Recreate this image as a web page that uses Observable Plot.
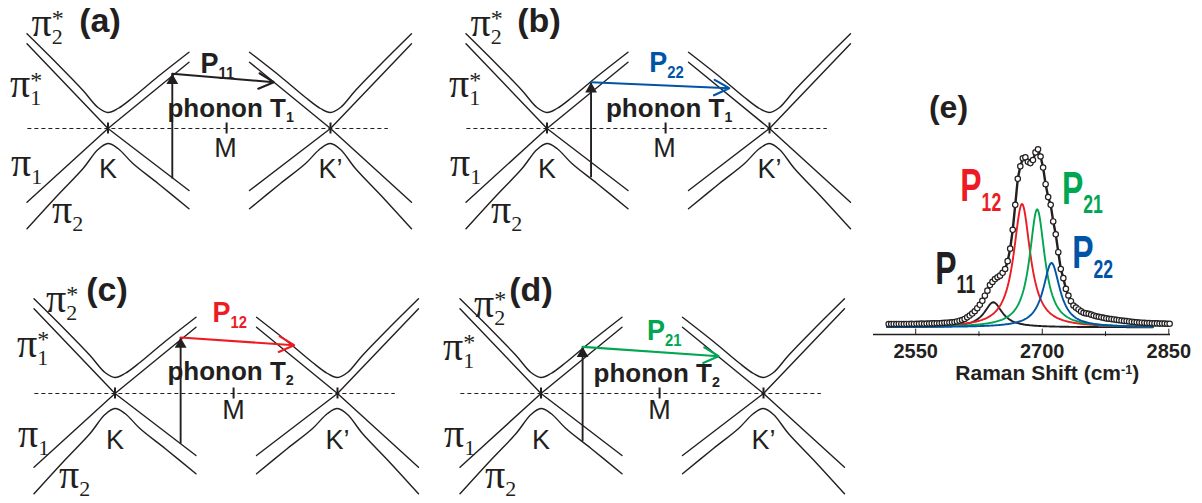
<!DOCTYPE html>
<html>
<head>
<meta charset="utf-8">
<script src="https://cdn.jsdelivr.net/npm/d3@7"></script>
<script src="https://cdn.jsdelivr.net/npm/@observablehq/plot@0.6"></script>
<style>
  html, body { margin: 0; padding: 0; background: #fff; }
  #fig { position: relative; width: 1202px; height: 503px; overflow: hidden; background: #fff; }
  .pane { position: absolute; }
</style>
</head>
<body>
<div id="fig"></div>
<script>
// ================= DATA =================
// high-symmetry points along the K–M–K' line (k in units of |KK'|)
const kPointLabels = ["K", "M", "K’"];
const kPointPos = [0, 0.533, 1];
const fermiSpan = [-0.36, 1.26];

// schematic bilayer bands around the K valley (dk from K, energy in arb. units)
const pi2StarK = [-0.364, -0.225, -0.112, -0.045, 0, 0.045, 0.112, 0.225, 0.364];
const pi2StarE = [0.947, 0.64, 0.38, 0.21, 0.16, 0.20, 0.31, 0.52, 0.763];
const pi1StarK = [-0.364, 0, 0.364];
const pi1StarE = [0.847, 0, 0.663];
const pi1K = [-0.364, 0, 0.364];
const pi1E = [-0.737, 0, -0.62];
const pi2K = [-0.364, -0.225, -0.112, -0.045, 0, 0.045, 0.112, 0.225, 0.364];
const pi2E = [-1.003, -0.665, -0.40, -0.21, -0.15, -0.20, -0.35, -0.55, -0.803];

// double-resonance processes of panels (a)–(d)
const panelTags = ["(a)", "(b)", "(c)", "(d)"];
const processDigits = ["11", "22", "12", "21"];
const phononBranch = ["1", "1", "2", "2"];
const exciteK = [0.289, 0.198, 0.295, 0.187];
const exciteFromE = [-0.50, -0.487, -0.50, -0.474];
const exciteToE = [0.547, 0.463, 0.56, 0.466];
const scatterToK = [0.745, 0.819, 0.805, 0.798];
const scatterToE = [0.463, 0.403, 0.483, 0.373];

// Raman 2D band, panel (e)
const ramanShift = [
  2518,2521,2524,2527,2530,2533,2536,2539,2542,2545,2548,2551,2554,2557,
  2560,2563,2566,2569,2572,2575,2578,2581,2584,2587,2590,2593,2596,2599,
  2602,2605,2608,2611,2614,2617,2620,2623,2626,2629,2632,2635,2638,2641,
  2644,2647,2650,2653,2656,2659,2662,2665,2668,2671,2674,2677,2680,2683,
  2686,2689,2692,2695,2698,2701,2704,2707,2710,2713,2716,2719,2722,2725,
  2728,2731,2734,2737,2740,2743,2746,2749,2752,2755,2758,2761,2764,2767,
  2770,2773,2776,2779,2782,2785,2788,2791,2794,2797,2800,2803,2806,2809,
  2812,2815,2818,2821,2824,2827,2830,2833,2836,2839,2842,2845,2848,2851];
const ramanIntensity = [
  .018,.018,.019,.018,.019,.019,.018,.019,.019,.020,.019,.020,.020,.021,
  .020,.021,.021,.022,.022,.023,.023,.024,.025,.026,.027,.028,.030,.033,
  .037,.041,.047,.056,.066,.077,.090,.107,.126,.148,.177,.205,.236,.254,
  .270,.280,.289,.305,.326,.370,.440,.545,.685,.830,.900,.945,.950,.925,
  .918,.935,.978,.995,.955,.893,.800,.728,.685,.592,.520,.420,.326,.275,
  .215,.178,.146,.122,.110,.100,.089,.081,.078,.076,.071,.066,.062,.059,
  .056,.053,.050,.048,.046,.044,.042,.040,.038,.036,.035,.033,.031,.030,
  .028,.027,.026,.025,.024,.024,.023,.022,.022,.021,.021,.021,.020,.020];
// Lorentzian fit components
const peakNames = ["11", "12", "21", "22"];
const peakCenters = [2642, 2676, 2694, 2711];
const peakFWHM = [26, 24, 22, 24];
const peakHeights = [0.14, 0.69, 0.66, 0.36];
const xTicks = [2550, 2700, 2850];
const xMinorTicks = [2625, 2775];

// ================= STYLE =================
const ink = "#231f20";
const sans = "'Liberation Sans', Arial, Helvetica, sans-serif";
const serif = "'Liberation Serif', 'Times New Roman', serif";
const processColor = {"11": ink, "22": "#0054a6", "12": "#ed1c24", "21": "#00a651"};

// ================= BAND PANELS =================
const bandDefs = [
  {name: "pi2*", k: pi2StarK, e: pi2StarE, smooth: true},
  {name: "pi1*", k: pi1StarK, e: pi1StarE, smooth: false},
  {name: "pi1", k: pi1K, e: pi1E, smooth: false},
  {name: "pi2", k: pi2K, e: pi2E, smooth: true}
];
const valleys = [{name: "K", at: kPointPos[0], dir: 1}, {name: "K'", at: kPointPos[2], dir: -1}];
const bandRows = valleys.flatMap(v => bandDefs.flatMap(b =>
  b.k.map((dk, i) => ({k: v.at + v.dir * dk, E: b.e[i], id: v.name + b.name, smooth: b.smooth}))));

const layouts = [
  {left: 0, top: 0, tag: [-8, 97], pi2s: [-76.5, 93], pi1s: 31.3, pi1: -47, kLab: -49, mLab: [-1, -28], ph: [59.5, 11.3], P: [92.5, 56]},
  {left: 438.5, top: 0, tag: [-8, 97], pi2s: [-76.5, 93], pi1s: 31.3, pi1: -47, kLab: -49, mLab: [-1, -28.7], ph: [59, 11.3], P: [102.3, 56.3]},
  {left: 6.8, top: 265.3, tag: [-8, 93], pi2s: [-69, 81.6], pi1s: 37, pi1: -53.4, kLab: -55, mLab: [0, -25], ph: [52.4, 13.3], P: [97.4, 71.6]},
  {left: 433.2, top: 265.3, tag: [-10, 93], pi2s: [-67, 76.6], pi1s: 34, pi1: -53.4, kLab: -55, mLab: [0, -25], ph: [52.6, 11.6], P: [106, 53.3]}
];

function T(txt, x, y, dx, dyUp, o = {}) {
  return Plot.text([txt], {x, y, dx, dy: -dyUp, text: d => d, textAnchor: "start", lineAnchor: "bottom",
    fill: ink, fontFamily: sans, ...o});
}

function bandPanel(i) {
  const L = layouts[i];
  const K = kPointPos[0];
  const proc = {k: exciteK[i], e0: exciteFromE[i], e1: exciteToE[i], k2: scatterToK[i], e2: scatterToE[i]};
  const col = processColor[processDigits[i]];
  return Plot.plot({
    width: 400, height: 240, margin: 0,
    x: {domain: [-0.4831, 1.3146], axis: null},
    y: {domain: [-1.12, 1.28], axis: null},
    style: {background: "transparent", overflow: "visible", fontFamily: sans},
    marks: [
      Plot.ruleY([0], {x1: fermiSpan[0], x2: fermiSpan[1], stroke: ink, strokeWidth: 1, strokeDasharray: "4,3"}),
      Plot.ruleX(kPointPos, {y1: -0.055, y2: 0.055, stroke: ink, strokeWidth: 2}),
      Plot.line(bandRows.filter(d => d.smooth), {x: "k", y: "E", z: "id", curve: "catmull-rom", stroke: ink, strokeWidth: 1.4}),
      Plot.line(bandRows.filter(d => !d.smooth), {x: "k", y: "E", z: "id", stroke: ink, strokeWidth: 1.4}),
      Plot.link([proc], {x1: "k", y1: "e0", x2: "k", y2: "e1", stroke: ink, strokeWidth: 1.9}),
      Plot.dot([proc], {x: "k", y: "e1", symbol: "triangle", r: 4.4, fill: ink, stroke: "none", dy: 6.8}),
      Plot.arrow([proc], {x1: "k", y1: "e1", x2: "k2", y2: "e2", stroke: col, strokeWidth: 2.1, headLength: 12, headAngle: 55}),
      T("π_2^*", K, 0, L.pi2s[0], L.pi2s[1], {fontFamily: serif, fontSize: 40}),
      T("π_1^*", K, 0, -98, L.pi1s, {fontFamily: serif, fontSize: 40}),
      T("π_1", K, 0, -97, L.pi1, {fontFamily: serif, fontSize: 40}),
      T("π_2", K, 0, -56, -94, {fontFamily: serif, fontSize: 40}),
      T(panelTags[i], K, 0, L.tag[0], L.tag[1], {textAnchor: "middle", fontSize: 34, fontWeight: "bold"}),
      Plot.text(kPointLabels, {x: kPointPos, y: 0, filter: (d, j) => j !== 1, dy: -L.kLab, text: d => d,
        textAnchor: "middle", lineAnchor: "bottom", fontSize: 27, fill: ink}),
      Plot.text(kPointLabels, {x: kPointPos, y: 0, filter: (d, j) => j === 1, dx: L.mLab[0], dy: -L.mLab[1], text: d => d,
        textAnchor: "middle", lineAnchor: "bottom", fontSize: 27, fill: ink}),
      T("phonon T_" + phononBranch[i], K, 0, L.ph[0], L.ph[1], {fontSize: 26, fontWeight: "bold"}),
      T("P_{" + processDigits[i] + "}", K, 0, L.P[0], L.P[1], {fontSize: 30, fontWeight: "bold", fill: col})
    ]
  });
}

// ================= SPECTRUM PANEL =================
function spectrumPanel() {
  const yDomain = [-0.04, 1.05];
  const yFloor = yDomain[0];
  const spectrum = ramanShift.map((s, i) => ({s, I: ramanIntensity[i]}));
  const lorentz = (x, c, w, h) => h / (1 + ((x - c) / (w / 2)) ** 2);
  const grid = d3.range(2516, 2832, 1);  // evaluation grid for the fitted line shapes
  const fits = peakNames.flatMap((n, i) => grid.map(s => ({n, s, I: lorentz(s, peakCenters[i], peakFWHM[i], peakHeights[i])})));
  const labelOffsets = {"11": [-58, -18.7], "12": [-61.7, -2.7], "21": [24.7, -5.7], "22": [20.7, 5.3]};
  return Plot.plot({
    width: 330, height: 295, marginLeft: 10, marginRight: 23, marginTop: 49, marginBottom: 51,
    x: {domain: [2500, 2852], ticks: xTicks, tickSize: 0, tickPadding: 9, tickFormat: d => String(d), label: null},
    y: {domain: yDomain, axis: null},
    style: {background: "transparent", overflow: "visible", fontFamily: sans, fontWeight: "bold", fontSize: "20px", color: ink},
    marks: [
      Plot.ruleY([yFloor], {stroke: ink, strokeWidth: 1.3}),
      Plot.ruleX(xTicks, {y1: yFloor, y2: yFloor + 0.03, stroke: ink, strokeWidth: 1}),
      Plot.ruleX(xMinorTicks, {y1: yFloor - 0.012, y2: yFloor + 0.015, stroke: ink, strokeWidth: 1}),
      Plot.line(fits, {x: "s", y: "I", z: "n", stroke: d => processColor[d.n], strokeWidth: 1.9}),
      Plot.line(spectrum, {x: "s", y: "I", stroke: ink, strokeWidth: 2.4}),
      Plot.dot(spectrum, {x: "s", y: "I", r: 2.7, fill: "white", stroke: ink, strokeWidth: 1.2}),
      ...peakNames.map((n, i) => Plot.text(["P_{" + n + "}"], {
        x: peakCenters[i], y: peakHeights[i], dx: labelOffsets[n][0], dy: labelOffsets[n][1],
        text: d => d, textAnchor: "start", lineAnchor: "bottom", fontSize: 47, fontWeight: "bold",
        fill: processColor[n]})),
      Plot.text(["(e)"], {frameAnchor: "top-left", dx: 75, dy: -22, text: d => d, textAnchor: "middle",
        lineAnchor: "bottom", fontSize: 32, fill: ink}),
      Plot.text(["Raman Shift (cm^{-1})"], {x: xTicks[1], frameAnchor: "bottom", dx: 5, dy: 45, text: d => d,
        textAnchor: "middle", lineAnchor: "bottom", fontSize: 21, fill: ink})
    ]
  });
}

// ================= ASSEMBLE =================
const fig = document.getElementById("fig");
function place(node, left, top) {
  const div = document.createElement("div");
  div.className = "pane";
  div.style.left = left + "px";
  div.style.top = top + "px";
  div.appendChild(node);
  fig.appendChild(div);
  return node;
}
const svgs = [];
layouts.forEach((L, i) => svgs.push(place(bandPanel(i), L.left, L.top)));
svgs.push(place(spectrumPanel(), 863, 90));

// sub/superscript rendering of labels such as π_1^*, P_{11}, (cm^{-1})
function enrich(svg) {
  const NS = "http://www.w3.org/2000/svg";
  for (const t of svg.querySelectorAll("text")) {
    const s = t.textContent;
    if (!/[_^]/.test(s)) continue;
    const cs = getComputedStyle(t);
    const fs = parseFloat(cs.fontSize);
    const p = /Serif/i.test(cs.fontFamily) ? {sub: [0.55, 0.2], sup: [0.6, -0.24]}
      : s.startsWith("phonon") ? {sub: [0.8, 0.3]}
      : s.startsWith("P_") ? {sub: [0.72, 0.2]}
      : {sup: [0.6, -0.42]};
    const re = /([_^])(?:\{([^}]*)\}|(.))/g;
    const parts = [];
    let last = 0, m;
    while ((m = re.exec(s))) {
      if (m.index > last) parts.push({t: s.slice(last, m.index), k: "n"});
      parts.push({t: m[2] !== undefined ? m[2] : m[3], k: m[1] === "_" ? "sub" : "sup"});
      last = re.lastIndex;
    }
    if (last < s.length) parts.push({t: s.slice(last), k: "n"});
    t.textContent = "";
    let shift = 0, prevSub = null;
    for (const part of parts) {
      const ts = document.createElementNS(NS, "tspan");
      ts.textContent = part.t;
      let target = 0, size = fs;
      if (part.k !== "n") {
        const [sc, sh] = p[part.k] || [0.7, part.k === "sub" ? 0.2 : -0.4];
        size = fs * sc; target = fs * sh;
      }
      ts.setAttribute("font-size", size);
      const d = target - shift;
      if (Math.abs(d) > 0.01) ts.setAttribute("dy", d);
      t.appendChild(ts);
      if (part.k === "sup" && prevSub) ts.setAttribute("dx", -prevSub.getComputedTextLength());
      shift = target;
      prevSub = part.k === "sub" ? ts : null;
    }
    if (s.startsWith("P_")) {
      const tr = t.getAttribute("transform") || "";
      t.setAttribute("transform", tr + (fs > 40 ? " scale(0.68,1)" : " scale(0.9,1)"));
    }
  }
}
svgs.forEach(enrich);
</script>
</body>
</html>
